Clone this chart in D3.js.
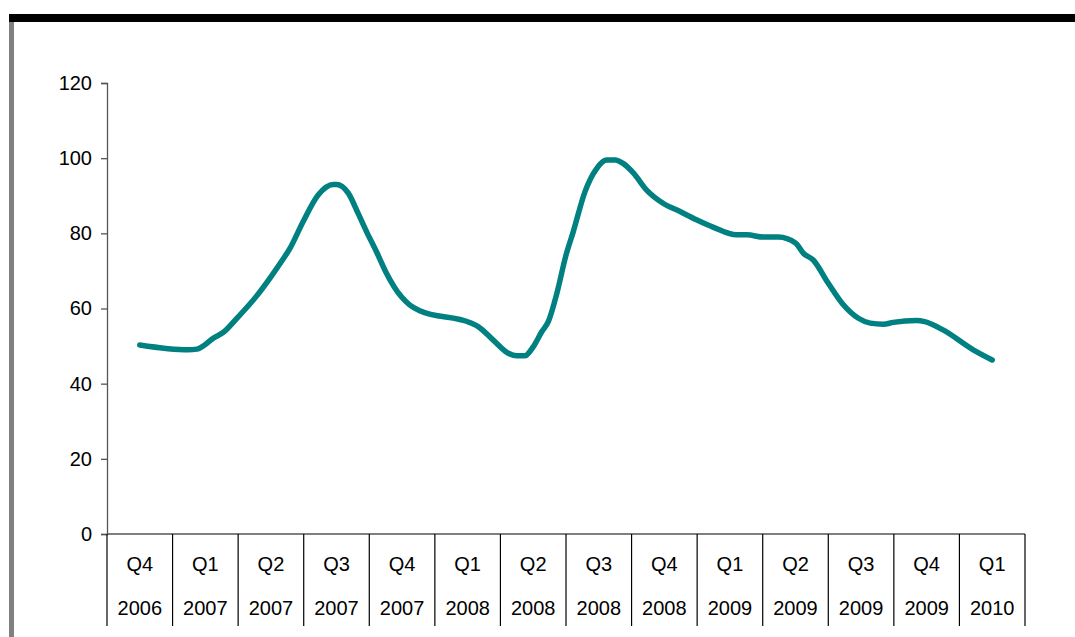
<!DOCTYPE html>
<html><head><meta charset="utf-8">
<script src="https://cdn.jsdelivr.net/npm/d3@7"></script>
<style>html,body{margin:0;padding:0;background:#fff;}svg{display:block;}</style>
</head><body>
<script>
// Category labels (one band per quarter)
const quarters = ["Q4","Q1","Q2","Q3","Q4","Q1","Q2","Q3","Q4","Q1","Q2","Q3","Q4","Q1"];
const years = ["2006","2007","2007","2007","2007","2008","2008","2008","2008","2009","2009","2009","2009","2010"];
const yTicks = [0,20,40,60,80,100,120];
// Series: position in quarters from first quarter (0 = Q4 2006) and value
const seriesT = [0,0.74,0.87,0.99,1.12,1.27,1.48,1.78,2.01,2.16,2.29,2.49,2.72,2.95,3.0,3.18,3.33,3.46,3.61,3.75,3.99,4.12,4.27,5.04,5.16,5.39,5.62,5.75,5.87,6.0,6.13,6.23,6.36,6.5,6.61,6.79,6.97,7.12,7.25,7.37,7.53,7.73,7.98,8.24,8.49,8.75,9.1,9.26,9.51,9.74,10.0,10.12,10.27,10.5,10.71,10.96,11.14,11.34,11.49,11.85,11.97,12.25,12.71,13.0];
const seriesV = [50.3,49.0,49.2,50.3,52.1,53.6,57.4,63.3,68.7,72.5,76.0,83.1,90.2,93.0,93.0,90.7,85.3,80.4,75.1,69.8,63.1,60.9,59.4,56.2,55.2,51.6,48.1,47.4,47.4,49.8,53.8,56.5,64.0,74.2,80.4,91.1,97.3,99.5,99.5,98.6,96.0,91.5,88.0,85.8,83.6,81.6,79.6,79.6,79.0,79.0,77.4,74.7,72.9,66.7,61.4,57.4,56.1,55.8,56.3,56.8,56.5,54.3,49.0,46.3];

const W = 1075, H = 637;
const svg = d3.select("body").append("svg").attr("width", W).attr("height", H);

// frame decorations
svg.append("rect").attr("x", 9).attr("y", 14).attr("width", W - 9).attr("height", 8).attr("fill", "#000");
svg.append("rect").attr("x", 9).attr("y", 22).attr("width", 5).attr("height", H - 22).attr("fill", "#808080");

const mLeft = 107, mRight = 1025, mTop = 83, mBottom = 534;
const font = "'Liberation Sans', Arial, sans-serif";
const fs = 20;

const y = d3.scaleLinear().domain([0, 120]).range([mBottom, mTop]);
const band = d3.scaleBand().domain(d3.range(quarters.length)).range([mLeft, mRight]).padding(0);
const x = d3.scaleLinear().domain([0, quarters.length - 1])
  .range([mLeft + band.bandwidth() / 2, mRight - band.bandwidth() / 2]);

// Y axis
const yAxis = d3.axisLeft(y).tickValues(yTicks).tickSize(6).tickPadding(9);
const gy = svg.append("g").attr("transform", `translate(${mLeft},0)`).call(yAxis);
gy.select(".domain").attr("stroke", "#555").attr("stroke-width", 1.3);
gy.selectAll(".tick line").attr("stroke", "#555").attr("stroke-width", 1.3);
gy.selectAll(".tick text").attr("font-family", font).attr("font-size", fs).attr("fill", "#000");

// X axis line
svg.append("line").attr("x1", mLeft).attr("x2", mRight).attr("y1", mBottom).attr("y2", mBottom)
  .attr("stroke", "#555").attr("stroke-width", 1.3);

// category separators
const seps = d3.range(quarters.length + 1).map(i => i === quarters.length ? mRight : band(i));
svg.selectAll("line.sep").data(seps).join("line").attr("class", "sep")
  .attr("x1", d => d).attr("x2", d => d).attr("y1", mBottom).attr("y2", 626)
  .attr("stroke", "#000").attr("stroke-width", 1.2);

const cats = svg.append("g");
cats.selectAll("text.q").data(quarters).join("text").attr("class", "q")
  .attr("x", (d, i) => band(i) + band.bandwidth() / 2).attr("y", 564)
  .attr("text-anchor", "middle").attr("dominant-baseline", "central")
  .attr("font-family", font).attr("font-size", fs).text(d => d);
cats.selectAll("text.yr").data(years).join("text").attr("class", "yr")
  .attr("x", (d, i) => band(i) + band.bandwidth() / 2).attr("y", 608)
  .attr("text-anchor", "middle").attr("dominant-baseline", "central")
  .attr("font-family", font).attr("font-size", fs).text(d => d);

// line
const pts = seriesT.map((t, i) => [t, seriesV[i]]);
const line = d3.line().x(d => x(d[0])).y(d => y(d[1])).curve(d3.curveMonotoneX);
svg.append("path").datum(pts).attr("d", line).attr("fill", "none")
  .attr("stroke", "#008080").attr("stroke-width", 5.5).attr("stroke-linejoin", "round").attr("stroke-linecap", "round");
</script>
</body></html>
